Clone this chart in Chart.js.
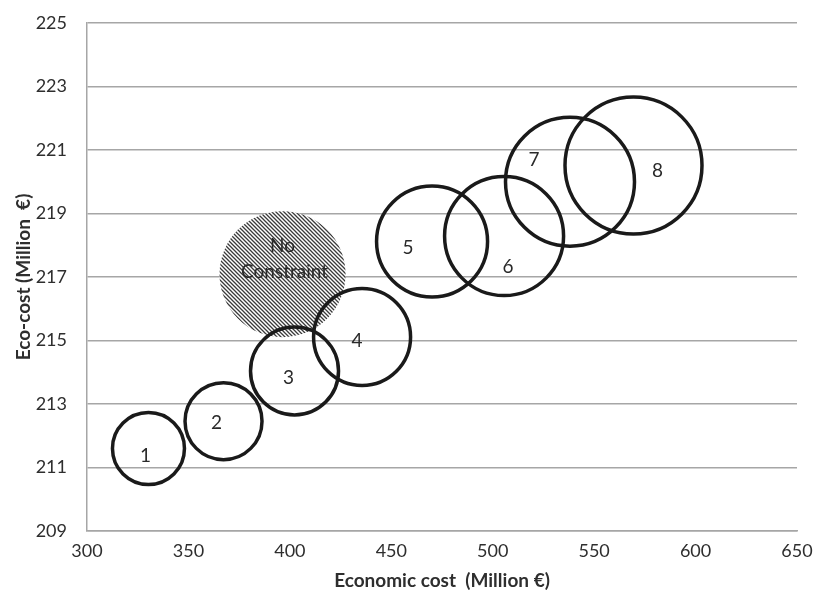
<!DOCTYPE html>
<html>
<head>
<meta charset="utf-8">
<script src="https://cdn.jsdelivr.net/npm/chart.js@4.4.0/dist/chart.umd.min.js"></script>
<style>
  html, body { margin: 0; padding: 0; background: #fff; }
  #wrap { width: 815px; height: 596px; }
</style>
</head>
<body>
<div id="wrap"><canvas id="grafico" width="815" height="596"></canvas></div>
<script>
// Dados
const rotulos = ["1", "2", "3", "4", "5", "6", "7", "8"];
const custoEconomico = [330.3, 367.3, 402.3, 435.6, 470.1, 505.6, 538.1, 569.4];
const ecoCusto = [211.6, 212.46, 214.04, 215.11, 218.12, 218.29, 220.0, 220.51];
const tamanho = [36, 38.5, 44, 48.5, 55.5, 59.5, 64.5, 68.5];

const semRestricaoX = [396.4];
const semRestricaoY = [217.09];
const semRestricaoR = [63];
const semRestricaoRotulo = ["No", "Constraint"];

const ticksX = [300, 350, 400, 450, 500, 550, 600, 650];
const ticksY = [209, 211, 213, 215, 217, 219, 221, 223, 225];

// deslocamento dos rótulos em px (estilo)
const deslocRotulo = [[-3, 7], [-7, 2], [-6, 7], [-5, 4], [-24, 6], [4, 31], [-36, -22], [24, 5]];

// Padrão hachurado
function criarHachura() {
    const c = document.createElement("canvas");
    c.width = 4; c.height = 4;
    const g = c.getContext("2d");
    g.fillStyle = "#fff";
    g.fillRect(0, 0, 4, 4);
    g.strokeStyle = "#3a3a3a";
    g.lineWidth = 1.3;
    g.beginPath();
    g.moveTo(-1, -1); g.lineTo(5, 5);
    g.moveTo(-1, 3); g.lineTo(1, 5);
    g.moveTo(3, -1); g.lineTo(5, 1);
    g.stroke();
    return document.getElementById("grafico").getContext("2d").createPattern(c, "repeat");
}

const rotulosPlugin = {
    id: "rotulos",
    afterDatasetsDraw(chart) {
        const ctx = chart.ctx;
        ctx.save();
        ctx.font = "19px Lato";
        ctx.fillStyle = "#2a2a2a";
        ctx.textAlign = "center";
        ctx.textBaseline = "middle";
        chart.getDatasetMeta(0).data.forEach((p, i) => {
            const d = deslocRotulo[i];
            ctx.fillText(rotulos[i], p.x + d[0], p.y + d[1]);
        });
        const nc = chart.getDatasetMeta(1).data[0];
        ctx.fillText(semRestricaoRotulo[0], nc.x, nc.y - 28);
        ctx.fillText(semRestricaoRotulo[1], nc.x + 2, nc.y - 2);
        ctx.restore();
    }
};

const ctx = document.getElementById("grafico").getContext("2d");
new Chart(ctx, {
    type: "bubble",
    data: {
        datasets: [
            {
                label: "Cenários",
                data: custoEconomico.map((x, i) => ({ x: x, y: ecoCusto[i], r: tamanho[i] })),
                backgroundColor: "rgba(0,0,0,0)",
                borderColor: "#1a1a1a",
                borderWidth: 3.5,
                order: 0
            },
            {
                label: "No Constraint",
                data: semRestricaoX.map((x, i) => ({ x: x, y: semRestricaoY[i], r: semRestricaoR[i] })),
                backgroundColor: criarHachura(),
                borderWidth: 0,
                order: 1
            }
        ]
    },
    options: {
        responsive: false,
        animation: false,
        clip: false,
        layout: { autoPadding: false, padding: { top: 23, right: 18, left: 0, bottom: 0 } },
        plugins: { legend: { display: false }, tooltip: { enabled: false } },
        scales: {
            x: {
                type: "linear",
                min: 300,
                max: 650,
                afterBuildTicks: s => { s.ticks = ticksX.map(v => ({ value: v })); },
                afterFit: s => { s.height = 65; s.paddingLeft = 0; s.paddingRight = 0; },
                grid: { display: false, drawTicks: false },
                border: { display: true, color: "#a6a6a6", width: 1.5 },
                ticks: { color: "#2e2e2e", font: { family: "Lato", size: 18 }, padding: 9 },
                title: {
                    display: true,
                    text: "Economic cost  (Million €)",
                    color: "#2e2e2e",
                    font: { family: "Lato", size: 19, weight: "bold" },
                    padding: { top: 5 }
                }
            },
            y: {
                type: "linear",
                min: 209,
                max: 225,
                afterBuildTicks: s => { s.ticks = ticksY.map(v => ({ value: v })); },
                afterFit: s => { s.width = 87; s.paddingTop = 0; s.paddingBottom = 0; },
                grid: { color: "#a6a6a6", lineWidth: 1.5, drawTicks: false },
                border: { display: true, color: "#a6a6a6", width: 1.5 },
                ticks: { color: "#2e2e2e", font: { family: "Lato", size: 18 }, padding: 20 },
                title: {
                    display: true,
                    text: "Eco-cost (Million  €)",
                    color: "#2e2e2e",
                    font: { family: "Lato", size: 19, weight: "bold" },
                    padding: { top: 12, bottom: 0 }
                }
            }
        }
    },
    plugins: [rotulosPlugin]
});
</script>
</body>
</html>
